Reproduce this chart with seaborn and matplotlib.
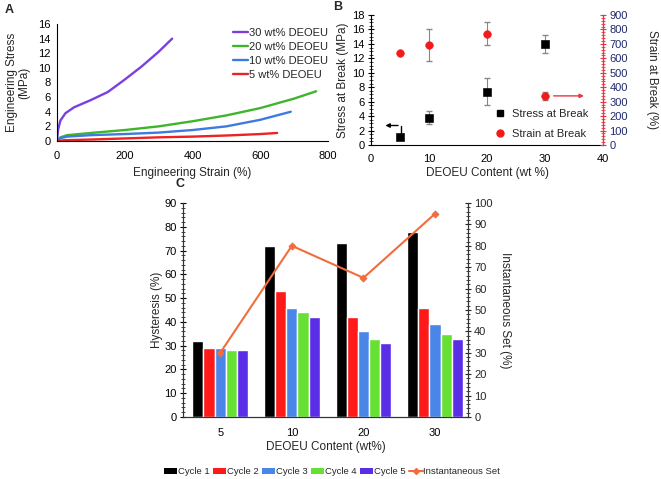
import numpy as np
import pandas as pd
import matplotlib
matplotlib.use('Agg')
import matplotlib.pyplot as plt
from matplotlib.ticker import AutoMinorLocator, MultipleLocator
from matplotlib.lines import Line2D
from matplotlib.patches import Patch
import seaborn as sns

sns.set_style('white')
plt.rcParams['font.family'] = ['Liberation Sans', 'DejaVu Sans']

# --- Panel A: stress-strain curves ---
strain_30 = [0, 3, 10, 25, 50, 100, 150, 200, 250, 300, 340]
stress_30 = [0, 1.5, 2.8, 3.8, 4.6, 5.6, 6.7, 8.4, 10.2, 12.2, 14.0]
strain_20 = [0, 10, 30, 100, 200, 300, 400, 500, 600, 700, 765]
stress_20 = [0, 0.5, 0.8, 1.1, 1.5, 2.0, 2.7, 3.5, 4.5, 5.8, 6.8]
strain_10 = [0, 10, 30, 100, 200, 300, 400, 500, 600, 690]
stress_10 = [0, 0.4, 0.6, 0.8, 0.95, 1.15, 1.5, 2.0, 2.9, 4.0]
strain_5 = [0, 20, 100, 200, 300, 400, 500, 600, 650]
stress_5 = [0, 0.1, 0.2, 0.35, 0.5, 0.6, 0.75, 0.95, 1.1]

# --- Panel B: break properties ---
content = [5, 10, 20, 30]
stress_break = [1.1, 3.8, 7.4, 14.0]
stress_err = [0.2, 0.9, 1.9, 1.3]
strain_break = [640, 690, 770, 340]
strain_err = [0, 110, 80, 30]

# --- Panel C: hysteresis ---
categories = ['5', '10', '20', '30']
cycle1 = [32, 72, 73, 78]
cycle2 = [29, 53, 42, 46]
cycle3 = [29, 46, 36, 39]
cycle4 = [28, 44, 33, 35]
cycle5 = [28, 42, 31, 33]
inst_set = [30, 80, 65, 95]

W, H = 661, 479
fig = plt.figure(figsize=(W / 100, H / 100), dpi=100)

def px_axes(x0, y0, x1, y1):
    return fig.add_axes([x0 / W, 1 - y1 / H, (x1 - x0) / W, (y1 - y0) / H])

fs = 8

def style_ticks(ax):
    ax.tick_params(axis='both', which='major', direction='inout', length=5, width=0.8,
                   labelsize=fs, colors='black', pad=2)
    ax.tick_params(axis='both', which='minor', direction='inout', length=3, width=0.6)

# ----- A -----
axA = px_axes(57, 24, 328, 141)
curves = [(strain_30, stress_30, '30 wt% DEOEU', '#7b3fe0'),
          (strain_20, stress_20, '20 wt% DEOEU', '#3fb52c'),
          (strain_10, stress_10, '10 wt% DEOEU', '#3d7be0'),
          (strain_5, stress_5, '5 wt% DEOEU', '#ee2222')]
for xs, ys, lab, col in curves:
    df = pd.DataFrame({'x': xs, 'y': ys})
    sns.lineplot(data=df, x='x', y='y', color=col, lw=1.7, estimator=None, sort=False,
                 ax=axA, label=lab)
axA.set_xlim(0, 800)
axA.set_ylim(0, 16)
axA.xaxis.set_major_locator(MultipleLocator(200))
axA.yaxis.set_major_locator(MultipleLocator(2))
axA.yaxis.set_minor_locator(AutoMinorLocator(4))
for s in ['top', 'right']:
    axA.spines[s].set_visible(False)
for s in ['left', 'bottom']:
    axA.spines[s].set_color('black')
    axA.spines[s].set_linewidth(0.8)
style_ticks(axA)
axA.tick_params(axis='x', which='major', pad=5)
axA.set_xlabel('Engineering Strain (%)', fontsize=8.5, labelpad=4)
axA.set_ylabel('Engineering Stress\n(MPa)', fontsize=8.5, labelpad=6, linespacing=1.0)
axA.legend(loc='upper right', bbox_to_anchor=(1.03, 1.03), frameon=False, fontsize=8,
           handlelength=1.4, handletextpad=0.1, labelspacing=0.35, borderpad=0.2)

# ----- B -----
axB = px_axes(371, 15, 603, 145)
axB2 = axB.twinx()
dfB = pd.DataFrame({'c': content, 'stress': stress_break, 'strain': strain_break})
axB.errorbar(content, stress_break, yerr=stress_err, fmt='none', ecolor='#888888',
             elinewidth=0.8, capsize=2, zorder=2)
sns.scatterplot(data=dfB, x='c', y='stress', marker='s', color='black', s=30,
                edgecolor='black', ax=axB, zorder=3, legend=False)
axB2.errorbar(content, strain_break, yerr=strain_err, fmt='none', ecolor='#888888',
              elinewidth=0.8, capsize=2, zorder=2)
sns.scatterplot(data=dfB, x='c', y='strain', marker='o', color='#ee1c1c', s=30,
                edgecolor='#ee1c1c', ax=axB2, zorder=3, legend=False)
axB.set_xlim(0, 40)
axB.set_ylim(0, 18)
axB2.set_ylim(0, 900)
axB.xaxis.set_major_locator(MultipleLocator(10))
axB.yaxis.set_major_locator(MultipleLocator(2))
axB.yaxis.set_minor_locator(AutoMinorLocator(4))
axB2.yaxis.set_major_locator(MultipleLocator(100))
axB2.yaxis.set_minor_locator(AutoMinorLocator(5))
for a in (axB, axB2):
    a.spines['top'].set_visible(False)
axB.spines['right'].set_visible(False)
axB2.spines['left'].set_visible(False)
axB2.spines['bottom'].set_visible(False)
axB.spines['left'].set_color('black')
axB.spines['bottom'].set_color('black')
axB2.spines['right'].set_color('#ee3344')
axB2.spines['right'].set_linewidth(1.0)
style_ticks(axB)
axB.tick_params(axis='x', which='major', pad=4)
axB2.tick_params(axis='y', which='major', direction='inout', length=5, width=0.8,
                 labelsize=fs, colors='#ee3344', labelcolor='#1f2a6e', pad=2)
axB2.tick_params(axis='y', which='minor', direction='inout', length=3, width=0.6,
                 colors='#ee3344')
axB.set_xlabel('DEOEU Content (wt %)', fontsize=8.5, labelpad=2)
axB.set_ylabel('Stress at Break (MPa)', fontsize=8.5, labelpad=2)
axB2.set_ylabel('Strain at Break (%)', fontsize=8.5, rotation=270, labelpad=22)
axB2.set_xlabel('')
# arrows pointing to axes
axB.plot([5.1, 5.1], [1.5, 2.7], color='black', lw=1)
axB.annotate('', xy=(2.0, 2.7), xytext=(5.15, 2.7),
             arrowprops=dict(arrowstyle='-|>', color='black', lw=1, mutation_scale=6))
axB2.annotate('', xy=(37.2, 340), xytext=(31.0, 340),
              arrowprops=dict(arrowstyle='-|>', color='#ee3344', lw=1, mutation_scale=6))
handlesB = [Line2D([], [], marker='s', color='black', ls='None', markersize=5),
            Line2D([], [], marker='o', color='#ee1c1c', ls='None', markersize=5)]
axB.legend(handlesB, ['Stress at Break', 'Strain at Break'], loc='lower right',
           bbox_to_anchor=(0.98, -0.03), frameon=False, fontsize=8, handletextpad=0.1,
           labelspacing=0.9)

# ----- C -----
axC = px_axes(183, 203, 468, 417)
axC2 = axC.twinx()
cyc_names = ['Cycle 1', 'Cycle 2', 'Cycle 3', 'Cycle 4', 'Cycle 5']
cyc_vals = [cycle1, cycle2, cycle3, cycle4, cycle5]
cyc_cols = ['#000000', '#ff1a1a', '#4a86e8', '#66e033', '#5a2ee6']
dfC = pd.DataFrame({'cat': np.repeat([categories], 5, axis=0).ravel(),
                    'cycle': np.repeat(cyc_names, 4),
                    'val': np.concatenate(cyc_vals)})
sns.barplot(data=dfC, x='cat', y='val', hue='cycle', palette=cyc_cols, width=0.78,
            gap=0, saturation=1, ax=axC, legend=False, errorbar=None)
dfS = pd.DataFrame({'pos': np.arange(len(categories)), 'set': inst_set})
sns.lineplot(data=dfS, x='pos', y='set', color='#f26d3d', lw=1.5, marker='D',
             markersize=3.5, markeredgecolor='#f26d3d', ax=axC2, legend=False)
axC.set_xlim(-0.52, 3.46)
axC.set_ylim(0, 90)
axC2.set_ylim(0, 100)
axC.yaxis.set_major_locator(MultipleLocator(10))
axC.yaxis.set_minor_locator(AutoMinorLocator(5))
axC2.yaxis.set_major_locator(MultipleLocator(10))
axC2.yaxis.set_minor_locator(AutoMinorLocator(5))
axC.set_xticks(range(4))
axC.set_xticks([0.5, 1.5, 2.5], minor=True)
for a in (axC, axC2):
    a.spines['top'].set_visible(False)
    for s in ['left', 'right', 'bottom']:
        a.spines[s].set_color('#333333')
        a.spines[s].set_linewidth(0.8)
style_ticks(axC)
axC.tick_params(axis='x', which='major', length=0, pad=8)
axC.tick_params(axis='x', which='minor', direction='inout', length=6, width=0.8)
axC2.tick_params(axis='y', which='major', direction='inout', length=5, width=0.8,
                 labelsize=fs, pad=2)
axC2.tick_params(axis='y', which='minor', direction='inout', length=3, width=0.6)
axC.set_xlabel('DEOEU Content (wt%)', fontsize=8.5, labelpad=2)
axC.set_ylabel('Hysteresis (%)', fontsize=8.5, labelpad=1)
axC2.set_ylabel('Instantaneous Set (%)', fontsize=8.5, rotation=270, labelpad=13)
axC2.set_xlabel('')

handlesC = [Patch(facecolor=c, edgecolor='none') for c in cyc_cols]
handlesC.append(Line2D([], [], color='#f26d3d', lw=1.5, marker='D', markersize=3))
fig.legend(handlesC, cyc_names + ['Instantaneous Set'], loc='center',
           bbox_to_anchor=(332 / W, 1 - 472 / H), ncol=6, frameon=False, fontsize=6.8,
           handlelength=1.4, handleheight=0.5, handletextpad=0.1, columnspacing=0.35)

# panel letters
fig.text(5 / W, 1 - 10 / H, 'A', fontsize=9, fontweight='bold', va='center')
fig.text(333 / W, 1 - 7 / H, 'B', fontsize=9, fontweight='bold', va='center')
fig.text(176 / W, 1 - 184 / H, 'C', fontsize=9, fontweight='bold', va='center')

fig.savefig('out.png', dpi=100)
